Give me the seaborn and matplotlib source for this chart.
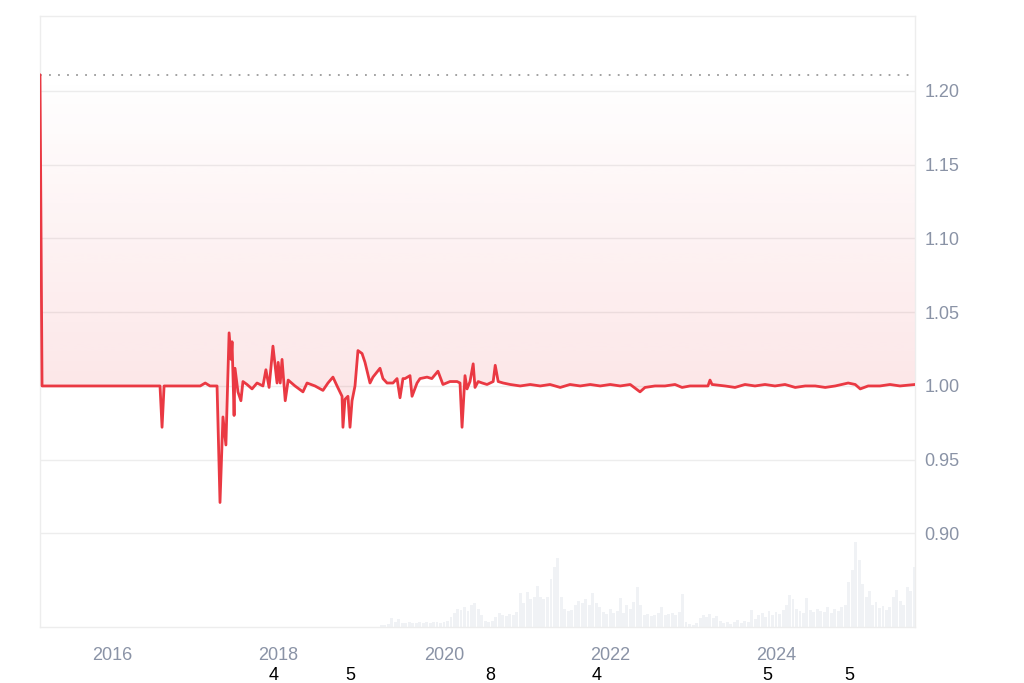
import numpy as np
import pandas as pd
import matplotlib
matplotlib.use("Agg")
import matplotlib.pyplot as plt
import matplotlib.dates as mdates
import matplotlib.transforms as mtransforms
from matplotlib.patches import Polygon
import seaborn as sns

# ---------------- data ----------------
price_dates = [
    "2015-02-18", "2015-02-27", "2015-11-08", "2016-05-03", "2016-07-30", "2016-08-08",
    "2016-08-17", "2017-01-23", "2017-02-14", "2017-03-07", "2017-04-07", "2017-04-20",
    "2017-05-03", "2017-05-16", "2017-05-30", "2017-06-08", "2017-06-12", "2017-06-21",
    "2017-06-25", "2017-07-08", "2017-07-21", "2017-07-30", "2017-08-17", "2017-09-08",
    "2017-09-30", "2017-10-26", "2017-11-08", "2017-11-22", "2017-12-09", "2017-12-27",
    "2018-01-01", "2018-01-10", "2018-01-18", "2018-02-01", "2018-02-14", "2018-03-16",
    "2018-04-20", "2018-05-08", "2018-06-12", "2018-07-17", "2018-08-08", "2018-08-30",
    "2018-09-17", "2018-10-09", "2018-10-13", "2018-10-22", "2018-11-04", "2018-11-13",
    "2018-11-22", "2018-12-05", "2018-12-18", "2019-01-05", "2019-01-18", "2019-02-09",
    "2019-02-22", "2019-03-25", "2019-04-07", "2019-04-25", "2019-05-21", "2019-06-08",
    "2019-06-21", "2019-07-04", "2019-07-13", "2019-08-04", "2019-08-13", "2019-09-04",
    "2019-09-17", "2019-10-18", "2019-11-08", "2019-12-05", "2019-12-27", "2020-01-27",
    "2020-02-27", "2020-03-11", "2020-03-20", "2020-04-02", "2020-04-11", "2020-04-24",
    "2020-05-08", "2020-05-16", "2020-05-30", "2020-06-17", "2020-07-08", "2020-08-04",
    "2020-08-13", "2020-08-26", "2020-09-17", "2020-10-18", "2020-12-01", "2021-01-14",
    "2021-02-27", "2021-04-11", "2021-05-26", "2021-07-08", "2021-08-22", "2021-10-05",
    "2021-11-18", "2022-01-01", "2022-02-14", "2022-03-30", "2022-05-12", "2022-06-03",
    "2022-07-17", "2022-08-30", "2022-10-13", "2022-11-13", "2022-12-18", "2023-02-01",
    "2023-03-07", "2023-03-16", "2023-03-25", "2023-05-21", "2023-07-04", "2023-08-17",
    "2023-09-30", "2023-11-13", "2023-12-27", "2024-02-09", "2024-03-25", "2024-05-08",
    "2024-06-21", "2024-08-04", "2024-09-17", "2024-11-13", "2024-12-14", "2025-01-05",
    "2025-02-09", "2025-04-02", "2025-05-16", "2025-06-29", "2025-09-03",
]
price_values = [
    1.211, 1.000, 1.000, 1.000, 1.000, 0.972,
    1.000, 1.000, 1.002, 1.000, 1.000, 0.921,
    0.979, 0.960, 1.036, 1.018, 1.030, 0.980,
    1.012, 0.996, 0.990, 1.003, 1.001, 0.998,
    1.002, 1.000, 1.011, 0.999, 1.027, 1.002,
    1.016, 1.002, 1.018, 0.990, 1.004, 1.000,
    0.996, 1.002, 1.000, 0.997, 1.002, 1.006,
    1.000, 0.993, 0.972, 0.991, 0.993, 0.972,
    0.990, 1.000, 1.024, 1.022, 1.016, 1.002,
    1.006, 1.012, 1.005, 1.002, 1.002, 1.005,
    0.992, 1.005, 1.005, 1.007, 0.993, 1.002,
    1.005, 1.006, 1.005, 1.010, 1.001, 1.003,
    1.003, 1.002, 0.972, 1.007, 0.998, 1.003,
    1.015, 0.999, 1.003, 1.002, 1.001, 1.003,
    1.014, 1.003, 1.002, 1.001, 1.000, 1.001,
    1.000, 1.001, 0.999, 1.001, 1.000, 1.001,
    1.000, 1.001, 1.000, 1.001, 0.996, 0.999,
    1.000, 1.000, 1.001, 0.999, 1.000, 1.000,
    1.000, 1.004, 1.001, 1.000, 0.999, 1.001,
    1.000, 1.001, 1.000, 1.001, 0.999, 1.000,
    1.000, 0.999, 1.000, 1.002, 1.001, 0.998,
    1.000, 1.000, 1.001, 1.000, 1.001,
]

volume_start = "2019-04-01"   # semi-monthly bars from here on
volume_values = [
    2, 2, 3, 9, 5, 8, 4, 4, 5, 4, 4, 5, 4, 5, 4, 5, 5, 4, 5, 6,
    10, 14, 18, 17, 20, 16, 22, 24, 18, 12, 6, 5, 6, 10, 14, 12, 11, 13, 12, 15,
    34, 24, 35, 28, 30, 41, 30, 28, 30, 48, 60, 69, 30, 18, 16, 17, 22, 26, 24, 28,
    22, 34, 24, 20, 15, 13, 18, 14, 16, 29, 14, 22, 18, 25, 40, 22, 12, 13, 11, 12,
    14, 20, 12, 13, 14, 12, 15, 33, 5, 3, 2, 4, 9, 12, 10, 13, 9, 11, 6, 4,
    5, 3, 5, 7, 4, 6, 5, 17, 8, 12, 14, 10, 16, 12, 15, 13, 17, 22, 32, 28,
    18, 16, 14, 29, 17, 15, 18, 16, 15, 20, 14, 18, 16, 20, 22, 45, 57, 85, 67, 43,
    30, 36, 22, 25, 19, 21, 17, 20, 30, 37, 26, 22, 40, 36, 60,
]

year_ticks = ["2016-01-01", "2018-01-01", "2020-01-01", "2022-01-01", "2024-01-01"]
year_labels = ["2016", "2018", "2020", "2022", "2024"]

event_dates = ["2017-12-10", "2018-11-16", "2020-07-20", "2021-11-03", "2023-11-25", "2024-11-20"]
event_labels = ["4", "5", "8", "4", "5", "5"]

y_ticks = [0.90, 0.95, 1.00, 1.05, 1.10, 1.15, 1.20]

# ---------------- build frames ----------------
price_df = pd.DataFrame({"date": pd.to_datetime(price_dates), "price": price_values})
vol_df = pd.DataFrame({
    "date": pd.date_range(volume_start, periods=len(volume_values), freq="SMS"),
    "volume": volume_values,
})

# ---------------- style ----------------
sns.set_theme(style="white")
plt.rcParams["font.family"] = ["Liberation Sans", "DejaVu Sans"]

RED = "#ea3943"
GRID = "#ededed"
TICK = "#8a93a6"

fig = plt.figure(figsize=(10.24, 6.83), dpi=100)
fig.patch.set_facecolor("white")

L, R = 40 / 1024, 915 / 1024
B, T = 1 - 627 / 683, 1 - 16 / 683

xmin = mdates.date2num(price_df["date"].iloc[0])
xmax = mdates.date2num(price_df["date"].iloc[-1])

# volume axes (behind)
axv = fig.add_axes([L, B, R - L, 92 / 683])
axv.bar(vol_df["date"], vol_df["volume"], width=12, color="#f0f2f5", linewidth=0, align="center")
axv.set_xlim(xmin, xmax)
axv.set_ylim(0, 92)
axv.axis("off")

# price axes
ax = fig.add_axes([L, B, R - L, T - B])
ax.set_facecolor("none")
ymin, ymax = 0.8366, 1.2508

for yv in y_ticks:
    ax.axhline(yv, color=GRID, lw=1.0, zorder=0)

base = price_df["price"].iloc[0]
ax.axhline(base, color="#9a9a9a", lw=1.3, ls=(0, (1, 4)), zorder=1)

# gradient fill between line and baseline
xs = mdates.date2num(price_df["date"])
ys = price_df["price"].values
verts = [(xs[0], base)] + list(zip(xs, ys)) + [(xs[-1], base)]
poly = Polygon(verts, closed=True, facecolor="none", edgecolor="none")
ax.add_patch(poly)
grad_bot = 0.92
n = 256
alpha = np.linspace(0.0, 0.17, n).reshape(-1, 1)   # row 0 (top) transparent
rgba = np.zeros((n, 1, 4))
rgba[..., 0] = 234 / 255
rgba[..., 1] = 57 / 255
rgba[..., 2] = 67 / 255
rgba[..., 3] = alpha
im = ax.imshow(rgba, extent=[xs[0], xs[-1], grad_bot, base], aspect="auto",
               origin="upper", zorder=1, interpolation="bilinear")
im.set_clip_path(poly)

sns.lineplot(data=price_df, x="date", y="price", ax=ax, color=RED, lw=2.0, zorder=3)
ax.set_xlim(xmin, xmax)
ax.set_ylim(ymin, ymax)

ax.set_xlabel("")
ax.set_ylabel("")
ax.yaxis.tick_right()
ax.set_yticks(y_ticks)
ax.set_yticklabels([f"{v:.2f}" for v in y_ticks])
ax.set_xticks(mdates.date2num(pd.to_datetime(year_ticks)))
ax.set_xticklabels(year_labels)
ax.tick_params(axis="both", length=0, colors=TICK, labelsize=13)
ax.tick_params(axis="x", pad=14.5)
ax.tick_params(axis="y", pad=7)

for s in ax.spines.values():
    s.set_visible(True)
    s.set_color(GRID)
    s.set_linewidth(1.0)

trans = mtransforms.blended_transform_factory(ax.transData, ax.transAxes)
for d, lab in zip(event_dates, event_labels):
    ax.text(mdates.date2num(pd.Timestamp(d)), (627 - 675) / 611, lab, transform=trans,
            ha="center", va="center", fontsize=13, color="black")

fig.savefig("out.png", dpi=100, facecolor="white")
